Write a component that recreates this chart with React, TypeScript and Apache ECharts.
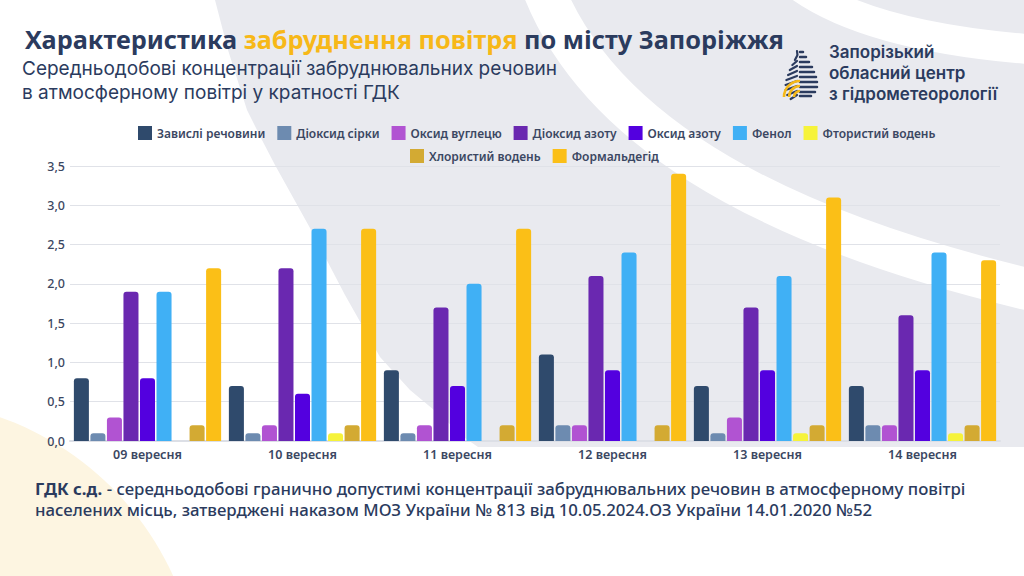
import React, { useEffect, useRef } from "react";
import * as echarts from "echarts";

const categories = ["09 вересня", "10 вересня", "11 вересня", "12 вересня", "13 вересня", "14 вересня"];
const seriesNames = [
  "Завислі речовини",
  "Діоксид сірки",
  "Оксид вуглецю",
  "Діоксид азоту",
  "Оксид азоту",
  "Фенол",
  "Фтористий водень",
  "Хлористий водень",
  "Формальдегід",
];
const suspended = [0.8, 0.7, 0.9, 1.1, 0.7, 0.7];
const sulfurDioxide = [0.1, 0.1, 0.1, 0.2, 0.1, 0.2];
const carbonOxide = [0.3, 0.2, 0.2, 0.2, 0.3, 0.2];
const nitrogenDioxide = [1.9, 2.2, 1.7, 2.1, 1.7, 1.6];
const nitrogenOxide = [0.8, 0.6, 0.7, 0.9, 0.9, 0.9];
const phenol = [1.9, 2.7, 2.0, 2.4, 2.1, 2.4];
const hydrogenFluoride = [null, 0.1, null, null, 0.1, 0.1];
const hydrogenChloride = [0.2, 0.2, 0.2, 0.2, 0.2, 0.2];
const formaldehyde = [2.2, 2.7, 2.7, 3.4, 3.1, 2.3];
const seriesValues = [
  suspended,
  sulfurDioxide,
  carbonOxide,
  nitrogenDioxide,
  nitrogenOxide,
  phenol,
  hydrogenFluoride,
  hydrogenChloride,
  formaldehyde,
];
const colors = ["#2f4a6c", "#6d8bb0", "#b153d2", "#6a28b0", "#5300df", "#40b0f5", "#f6f33a", "#d3aa33", "#fbbf17"];
const yTicks = { min: 0, max: 3.5, interval: 0.5 };
const logoText = ["Запорізький", "обласний центр", "з гідрометеорології"];
const subtitleLines = [
  "Середньодобові концентрації забруднювальних речовин",
  "в атмосферному повітрі у кратності ГДК",
];

const NAVY = "#2b3b5e";
const FONT = "'Noto Sans', sans-serif";
const FONT2 = "Inter, 'Noto Sans', sans-serif";

export default function App() {
  const ref = useRef<HTMLDivElement>(null);
  useEffect(() => {
    document.body.style.margin = "0";
    const chart = echarts.init(ref.current!, null, { renderer: "svg" });

    const logoLines: any[] = [];
    const rows = [
      [52, 3], [57, 6], [62, 9], [67, 12], [72, 14], [77, 16], [82, 17], [87, 17], [92, 15], [96, 11],
    ];
    rows.forEach(([y, hw]) => {
      logoLines.push({
        type: "line",
        z: 10,
        shape: { x1: 800, y1: y, x2: 800 + hw, y2: y },
        style: { stroke: NAVY, lineWidth: 2.5, lineCap: "round" },
      });
      logoLines.push({
        type: "line",
        z: 10,
        shape: { x1: 800 - hw * 0.85, y1: y + 3, x2: 797, y2: y - 1 },
        style: { stroke: NAVY, lineWidth: 2.2, lineCap: "round" },
      });
    });
    [6, 11, 16].forEach((r) => {
      logoLines.push({
        type: "arc",
        z: 11,
        shape: { cx: 800, cy: 97, r, startAngle: Math.PI, endAngle: Math.PI * 1.5 },
        style: { stroke: "#f5b819", lineWidth: 2.6, fill: "none" },
      });
    });

    const logoTexts = logoText.map((t, i) => ({
      type: "text",
      x: 829,
      y: 52 + i * 20.8,
      style: {
        text: t,
        font: `600 17px ${FONT2}`,
        fill: NAVY,
        verticalAlign: "middle",
      },
    }));

    const subtitleTexts = subtitleLines.map((t, i) => ({
      type: "text",
      x: 22,
      y: 68 + i * 24,
      style: {
        text: t,
        font: `19px ${FONT2}`,
        fill: NAVY,
        verticalAlign: "middle",
      },
    }));

    chart.setOption({
      animation: false,
      backgroundColor: "#ffffff",
      textStyle: { fontFamily: FONT },
      color: colors,
      title: {
        left: 20,
        top: 21,
        text: "{a|Характеристика }{b|забруднення повітря}{a| по місту Запоріжжя}",
        textStyle: {
          rich: {
            a: { fontFamily: FONT, fontSize: 25.3, fontWeight: "bold", color: NAVY },
            b: { fontFamily: FONT, fontSize: 25.3, fontWeight: "bold", color: "#f7b818" },
          },
        },
      },
      graphic: [
        {
          type: "polygon",
          z: -100,
          silent: true,
          shape: {
            points: [
              [215, 0], [228, 50], [247, 110], [262, 140], [275, 165], [310, 228], [345, 295],
              [380, 357], [410, 390], [440, 415], [465, 438], [478, 447], [1024, 447], [1024, 0],
            ],
          },
          style: { fill: "#e9eaef" },
        },
        {
          type: "bezierCurve",
          z: -90,
          silent: true,
          shape: { x1: 540, y1: -20, cpx1: 590, cpy1: 120, cpx2: 750, cpy2: 225, x2: 1040, y2: 292 },
          style: { stroke: "#ffffff", lineWidth: 42, fill: "none" },
        },
        {
          type: "bezierCurve",
          z: -90,
          silent: true,
          shape: { x1: 780, y1: -30, cpx1: 820, cpy1: 10, cpx2: 900, cpy2: 40, x2: 1040, y2: 50 },
          style: { stroke: "#ffffff", lineWidth: 30, fill: "none" },
        },
        {
          type: "circle",
          z: -95,
          silent: true,
          shape: { cx: -100, cy: 700, r: 300 },
          style: { fill: "#fdf5e1" },
        },
        ...subtitleTexts,
        ...logoLines,
        ...logoTexts,
        {
          type: "text",
          left: 35,
          top: 480,
          style: {
            text: "{b|ГДК с.д.}{n| - середньодобові гранично допустимі концентрації забруднювальних речовин в атмосферному повітрі}\n{n|населених місць, затверджені наказом МОЗ України № 813 від 10.05.2024.ОЗ України 14.01.2020 №52}",
            rich: {
              b: { font: `bold 16.8px ${FONT}`, fill: NAVY, lineHeight: 21 },
              n: { font: `500 16.8px ${FONT}`, fill: NAVY, lineHeight: 21 },
            },
          },
        },
      ],
      legend: [
        {
          left: 133,
          top: 121,
          itemWidth: 14,
          itemHeight: 14,
          itemGap: 12,
          icon: "rect",
          data: seriesNames.slice(0, 7),
          textStyle: { fontFamily: FONT, fontSize: 12, fontWeight: 600, color: "#3b4762" },
        },
        {
          left: 405,
          top: 144,
          itemWidth: 14,
          itemHeight: 14,
          itemGap: 12,
          icon: "rect",
          data: seriesNames.slice(7),
          textStyle: { fontFamily: FONT, fontSize: 12, fontWeight: 600, color: "#3b4762" },
        },
      ],
      grid: { left: 70, right: 24, top: 166, bottom: 135, containLabel: false },
      xAxis: {
        type: "category",
        data: categories,
        axisTick: { show: false },
        axisLine: { lineStyle: { color: "#dcdfe6", width: 2 } },
        axisLabel: { color: "#3b4762", fontSize: 12.5, fontWeight: 600, margin: 7 },
      },
      yAxis: {
        type: "value",
        min: yTicks.min,
        max: yTicks.max,
        interval: yTicks.interval,
        axisLabel: {
          color: "#3b4762",
          fontSize: 12.5,
          fontWeight: 500,
          margin: 5,
          formatter: (v: number) => v.toFixed(1).replace(".", ","),
        },
        splitLine: { lineStyle: { color: "#e0e2e8", width: 1 } },
      },
      series: seriesNames.map((name, i) => ({
        name,
        type: "bar",
        data: seriesValues[i],
        barGap: "10%",
        barCategoryGap: "5%",
        itemStyle: { color: colors[i], borderRadius: [3, 3, 0, 0] },
      })),
    });
    return () => chart.dispose();
  }, []);
  return <div ref={ref} style={{ width: 1024, height: 576 }} />;
}
